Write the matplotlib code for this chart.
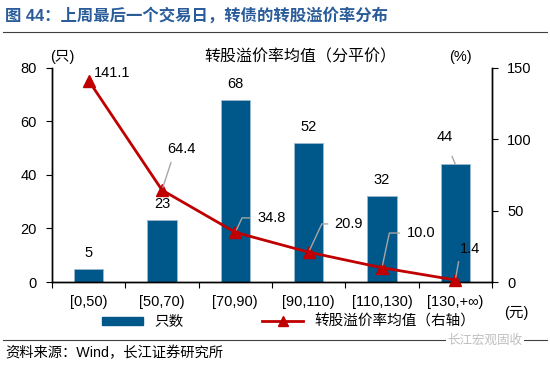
import matplotlib
matplotlib.use("Agg")
import matplotlib.pyplot as plt
from matplotlib.lines import Line2D
import numpy as np

plt.rcParams["font.family"] = ["Liberation Sans", "Noto Sans CJK SC", "DejaVu Sans"]
plt.rcParams["axes.unicode_minus"] = False

categories = ["[0,50)", "[50,70)", "[70,90)", "[90,110)", "[110,130)", "[130,+∞)"]
counts = [5, 23, 68, 52, 32, 44]
premium = [141.1, 64.4, 34.8, 20.9, 10.0, 1.4]

BAR = "#00578A"
RED = "#C00000"
GREY = "#A6A6A6"
TITLE = "#2A5C9A"
FS = 10.5

fig = plt.figure(figsize=(5.5, 3.66), dpi=100)
ax = fig.add_axes([0.0945, 0.2295, 0.8, 0.585])
ax2 = ax.twinx()

x = np.arange(len(categories))
ax.bar(x, counts, width=0.4, color=BAR, edgecolor="#9DB9CF", linewidth=0.6, zorder=2)
ax.set_xlim(-0.5, len(categories) - 0.5)
ax.set_ylim(0, 80)
ax.set_yticks([0, 20, 40, 60, 80])
ax2.set_ylim(0, 150)
ax2.set_yticks([0, 50, 100, 150])

ax2.plot(x, premium, color=RED, lw=2, marker="^", ms=9, zorder=3, clip_on=False)

# x ticks between categories, labels centred
ax.set_xticks(np.arange(-0.5, len(categories), 1.0))
ax.set_xticklabels([])
ax.set_xticks(x, minor=True)
ax.set_xticklabels(categories, minor=True)
ax.tick_params(axis="x", which="minor", length=0, pad=9, labelsize=FS)
ax.tick_params(axis="x", which="major", length=4, direction="out")
ax.tick_params(axis="y", labelsize=FS, length=4, pad=7, direction="out")
ax2.tick_params(axis="y", labelsize=FS, length=4, pad=7, direction="out")
for a in (ax, ax2):
    a.spines["top"].set_visible(False)
    for s in ("left", "right", "bottom"):
        a.spines[s].set_linewidth(1.0)

# bar value labels
for i, c in enumerate(counts):
    if i == 5:
        continue
    ax.text(i, c + 6, str(c), ha="center", va="center", fontsize=FS)
ax.annotate("44", xy=(5, counts[5]), xytext=(4.85, counts[5] + 10), ha="center", va="center",
            fontsize=FS, arrowprops=dict(arrowstyle="-", color=GREY, lw=1, shrinkA=7, shrinkB=0))

# line value labels (right axis)
ax2.text(0.32, 146.5, "141.1", ha="center", va="center", fontsize=FS)
label_pos = {
    1: (1.27, 93.5, (0.2, 0.0), "arc3", 3),
    2: (2.49, 44.9, (0.0, 0.5), "angle,angleA=0,angleB=65,rad=0", 3),
    3: (3.55, 40.7, (0.0, 0.5), "angle,angleA=0,angleB=65,rad=0", 3),
    4: (4.53, 34.3, (0.0, 0.5), "angle,angleA=0,angleB=78,rad=0", 3),
    5: (5.2, 23.1, (0.0, 0.1), "arc3", 2),
}
for i, (tx, ty, rp, cs, sa) in label_pos.items():
    ax2.annotate(f"{premium[i]:.1f}", xy=(i, premium[i]), xytext=(tx, ty), ha="center", va="center",
                 fontsize=FS,
                 arrowprops=dict(arrowstyle="-", color=GREY, lw=1, shrinkA=sa, shrinkB=2,
                                 relpos=rp, connectionstyle=cs))

# axis captions
fig.text(62 / 550, 1 - 57 / 366, "(只)", ha="center", va="center", fontsize=FS)
fig.text(300 / 550, 1 - 57 / 366, "转股溢价率均值（分平价）", ha="center", va="center", fontsize=11.5)
fig.text(460 / 550, 1 - 57 / 366, "(%)", ha="center", va="center", fontsize=FS)
fig.text(516 / 550, 1 - 313 / 366, "(元)", ha="center", va="center", fontsize=FS)

# legend
handles = [plt.Rectangle((0, 0), 1, 1, color=BAR),
           Line2D([], [], color=RED, lw=2, marker="^", ms=7)]
fig.legend(handles, ["只数", "转股溢价率均值（右轴）"], loc="center", bbox_to_anchor=(0.525, 1 - 322 / 366),
           ncol=2, frameon=False, fontsize=FS, handlelength=2.8, handleheight=0.5,
           columnspacing=5.4, handletextpad=0.8)

# title and frame lines
fig.text(5 / 550, 1 - 15 / 366, "图 44：上周最后一个交易日，转债的转股溢价率分布", ha="left", va="center",
         fontsize=11.8, fontweight="bold", color=TITLE)
fig.add_artist(Line2D([3 / 550, 547 / 550], [1 - 32 / 366] * 2, color="#404040", lw=0.8))
fig.add_artist(Line2D([3 / 550, 547 / 550], [1 - 340 / 366] * 2, color="#404040", lw=0.8))
fig.text(485 / 550, 1 - 341 / 366, "长江宏观固收", ha="center", va="center", fontsize=9, color="#BFBFBF",
         bbox=dict(facecolor="white", edgecolor="none", pad=1))
fig.text(5 / 550, 1 - 353 / 366, "资料来源：Wind，长江证券研究所", ha="left", va="center", fontsize=10.3)

fig.savefig("out.png", dpi=100)
